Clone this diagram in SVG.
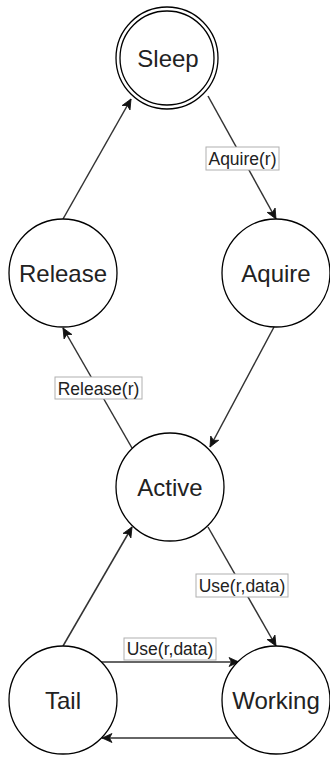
<svg xmlns="http://www.w3.org/2000/svg" width="330" height="757" viewBox="0 0 330 757">
  <defs>
    <style>
      .state { fill: #ffffff; stroke: #000000; stroke-width: 1.3; }
      .state-label { font-family: "Liberation Sans", Arial, sans-serif; font-size: 24px; fill: #222222; text-anchor: middle; }
      .edge { stroke: #333333; stroke-width: 1.5; fill: none; marker-end: url(#arrow); }
      .edge-box { fill: #ffffff; stroke: #b0b0b0; stroke-width: 1; }
      .edge-label { font-family: "Liberation Sans", Arial, sans-serif; font-size: 17.5px; fill: #222222; text-anchor: middle; }
    </style>
    <marker id="arrow" viewBox="-11 -5 12 10" refX="0" refY="0" markerWidth="12" markerHeight="10" markerUnits="userSpaceOnUse" orient="auto">
      <path d="M0,0 L-10,-4.5 L-7.5,0 L-10,4.5 Z" fill="#111111" stroke="#111111" stroke-width="0.8" stroke-linejoin="miter"/>
    </marker>
  </defs>

  <rect width="330" height="757" fill="#ffffff"/>

  <!-- transitions -->
  <g id="connectors">
    <line class="edge" x1="63" y1="219" x2="131" y2="99"/>
    <line class="edge" x1="208" y1="96" x2="276" y2="219"/>
    <line class="edge" x1="274" y1="327" x2="210" y2="447"/>
    <line class="edge" x1="132" y1="448" x2="63" y2="328"/>
    <line class="edge" x1="208" y1="527" x2="276" y2="646"/>
    <line class="edge" x1="63" y1="646" x2="132" y2="527"/>
    <line class="edge" x1="100" y1="662" x2="239" y2="662"/>
    <line class="edge" x1="238" y1="738" x2="102" y2="738"/>

    <rect class="edge-box" x="206" y="147" width="73" height="23"/>
    <text class="edge-label" x="242.5" y="164.5">Aquire(r)</text>

    <rect class="edge-box" x="55" y="377" width="87" height="22"/>
    <text class="edge-label" x="98.5" y="394.5">Release(r)</text>

    <rect class="edge-box" x="196" y="574" width="92" height="23"/>
    <text class="edge-label" x="242" y="591.5">Use(r,data)</text>

    <rect class="edge-box" x="124" y="638" width="92" height="22"/>
    <text class="edge-label" x="170" y="655">Use(r,data)</text>
  </g>

  <!-- states -->
  <g id="sleep">
    <circle class="state" cx="167" cy="58" r="51"/>
    <circle class="state" cx="167" cy="58" r="47"/>
    <text class="state-label" x="168" y="67">Sleep</text>
  </g>
  <g id="release">
    <circle class="state" cx="63" cy="273" r="54"/>
    <text class="state-label" x="63" y="282">Release</text>
  </g>
  <g id="aquire">
    <circle class="state" cx="276" cy="273" r="54"/>
    <text class="state-label" x="276" y="282">Aquire</text>
  </g>
  <g id="active">
    <circle class="state" cx="170" cy="487" r="54"/>
    <text class="state-label" x="170" y="496">Active</text>
  </g>
  <g id="tail">
    <circle class="state" cx="63" cy="700" r="54"/>
    <text class="state-label" x="63" y="709">Tail</text>
  </g>
  <g id="working">
    <circle class="state" cx="276" cy="700" r="54"/>
    <text class="state-label" x="276" y="709">Working</text>
  </g>
</svg>
